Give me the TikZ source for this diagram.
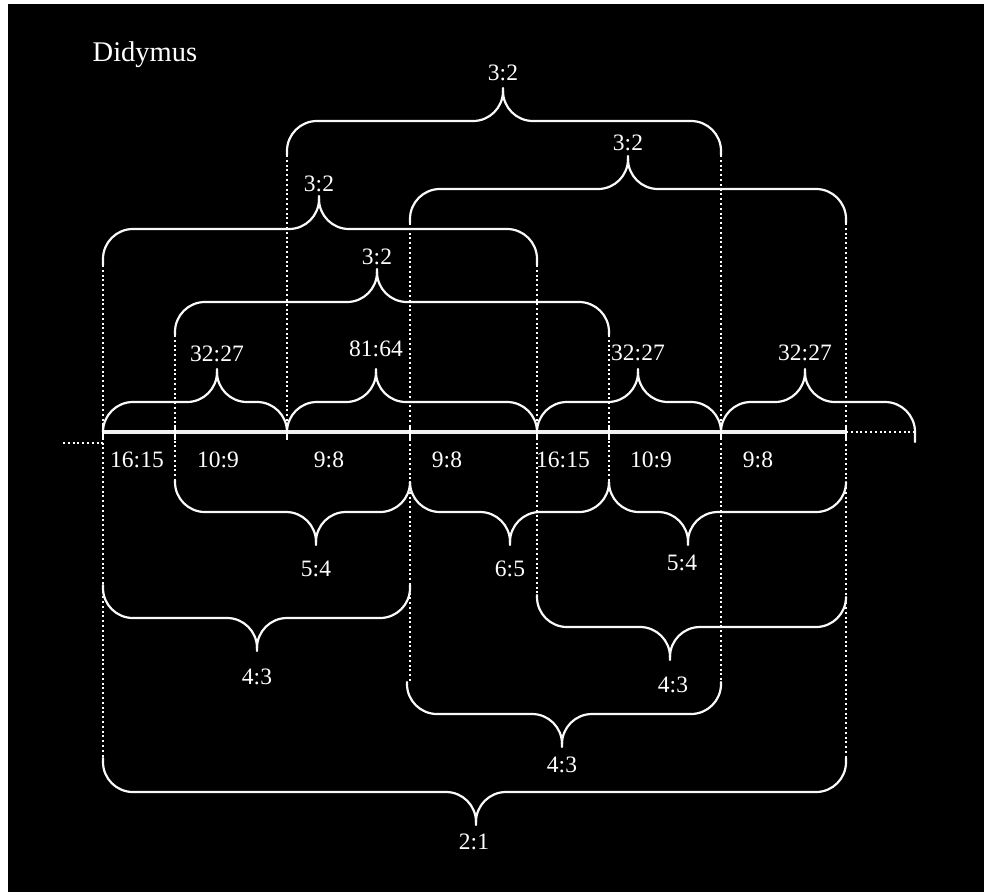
\documentclass[tikz,border=0pt]{standalone}
\usepackage{fontspec}
\setmainfont{Liberation Serif}
\tikzset{
  brc/.style={white!95!gray, line width=2.2pt, line cap=round, line join=round},
  dotline/.style={white, line width=2.2pt, dash pattern=on 2pt off 2.8pt},
  lbl/.style={text=white, font=\fontsize{23.5}{26}\selectfont, inner sep=0pt, text depth=0pt},
  ttl/.style={text=white, font=\fontsize{28.5}{31}\selectfont, inner sep=0pt, text depth=0pt},
  tickmark/.style={white, line width=2.4pt}
}
% #1 x1, #2 yend1, #3 x2, #4 yend2, #5 xcusp, #6 yflat, #7 s (-1 up, +1 down)
\newcommand\ratiobrace[7]{%
  \draw[brc] (#1,#2) -- (#1,{#6-(#7)*30})
    .. controls (#1,{#6-(#7)*13.4}) and ({#1+13.4},#6) .. ({#1+30},#6)
    -- ({#5-30},#6)
    .. controls ({#5-13.4},#6) and (#5,{#6+(#7)*13.4}) .. (#5,{#6+(#7)*30})
    -- (#5,{#6+(#7)*33});
  \draw[brc] (#5,{#6+(#7)*30})
    .. controls (#5,{#6+(#7)*13.4}) and ({#5+13.4},#6) .. ({#5+30},#6)
    -- ({#3-30},#6)
    .. controls ({#3-13.4},#6) and (#3,{#6-(#7)*13.4}) .. (#3,{#6-(#7)*30})
    -- (#3,#4);
}
\begin{document}
\begin{tikzpicture}[x=1pt,y=-1pt]
\useasboundingbox (0,0) rectangle (984,892);
\fill[white] (0,0) rectangle (984,892);
\fill[black] (7.5,4) rectangle (984,892);

% dotted guide lines
\draw[dotline] (103,265) -- (103,758);
\draw[dotline] (175,335) -- (175,480);
\draw[dotline] (287,155) -- (287,432);
\draw[dotline] (410,223) -- (410,682);
\draw[dotline] (537,265) -- (537,595);
\draw[dotline] (609,335) -- (609,482);
\draw[dotline] (721,155) -- (721,682);
\draw[dotline] (846,223) -- (846,758);
\draw[dotline] (63,443) -- (103,443);
\draw[dotline] (846,432) -- (915,432);

% braces above
\ratiobrace{103}{432}{287}{432}{217}{402}{-1}
\ratiobrace{287}{432}{537}{432}{376}{402}{-1}
\ratiobrace{537}{432}{721}{432}{638}{402}{-1}
\ratiobrace{721}{432}{915}{442}{805}{402}{-1}
\ratiobrace{175}{335}{609}{335}{377}{302}{-1}
\ratiobrace{103}{265}{537}{265}{319}{229}{-1}
\ratiobrace{410}{223}{846}{223}{628}{189}{-1}
\ratiobrace{287}{155}{721}{155}{503}{121}{-1}

% braces below
\ratiobrace{175}{480}{410}{482}{316}{512}{1}
\ratiobrace{410}{482}{609}{482}{510}{512}{1}
\ratiobrace{609}{482}{846}{482}{688}{512}{1}
\ratiobrace{103}{585}{410}{585}{257}{618}{1}
\ratiobrace{537}{595}{846}{597}{670}{627}{1}
\ratiobrace{407}{682}{721}{682}{562}{714}{1}
\ratiobrace{103}{758}{846}{758}{476}{792}{1}

% main line and ticks
\draw[white!90!gray, line width=3.8pt] (103,432) -- (846,432);
\foreach \t in {103,175,287,410,537,609,721,846}
  \draw[tickmark] (\t,425) -- (\t,440);

% title
\node[ttl] (title) at (145,52) {Didymus};

% labels on the line
\node[lbl] (s1) at (137,460) {16:15};
\node[lbl] (s2) at (218,460) {10:9};
\node[lbl] (s3) at (329,460) {9:8};
\node[lbl] (s4) at (447,460) {9:8};
\node[lbl] (s5) at (563,460) {16:15};
\node[lbl] (s6) at (651,460) {10:9};
\node[lbl] (s7) at (758,460) {9:8};

% labels above
\node[lbl] (a1) at (217,354) {32:27};
\node[lbl] (a2) at (376,349) {81:64};
\node[lbl] (a3) at (638,353) {32:27};
\node[lbl] (a4) at (805,353) {32:27};
\node[lbl] (b1) at (377,257) {3:2};
\node[lbl] (c1) at (319,184) {3:2};
\node[lbl] (c2) at (628,143) {3:2};
\node[lbl] (d1) at (503,73) {3:2};

% labels below
\node[lbl] (e1) at (316,569) {5:4};
\node[lbl] (e2) at (510,569) {6:5};
\node[lbl] (e3) at (682,563) {5:4};
\node[lbl] (f1) at (257,677) {4:3};
\node[lbl] (f2) at (673,685) {4:3};
\node[lbl] (g1) at (562,765) {4:3};
\node[lbl] (h1) at (474,842) {2:1};
\end{tikzpicture}
\end{document}
